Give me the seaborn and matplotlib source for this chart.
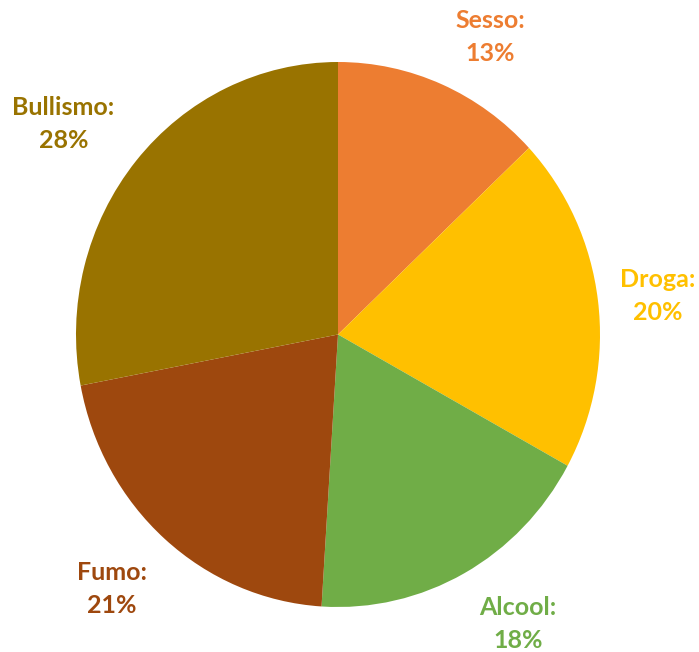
import numpy as np
import matplotlib
matplotlib.use("Agg")
import matplotlib.pyplot as plt
import seaborn as sns

categories = ["Sesso", "Droga", "Alcool", "Fumo", "Bullismo"]
values = [13, 20, 18, 21, 28]
colors = ["#ED7D31", "#FFC000", "#70AD47", "#9E480E", "#997300"]
label_dist = [1.236, 1.229, 1.265, 1.272, 1.302]
label_ang_shift = [-4.6, -0.6, 4.1, -1.3, 3.2]

sns.set_theme(style="white")
plt.rcParams['font.family'] = ['Lato', 'DejaVu Sans']

W, H = 699, 652
fig = plt.figure(figsize=(W / 100, H / 100), dpi=100)
fig.patch.set_facecolor("white")
ax = fig.add_axes([76 / W, (H - 607) / H, 524 / W, 545 / H])

wedges, _ = ax.pie(values, colors=colors, startangle=90, counterclock=False,
                   wedgeprops=dict(linewidth=0))
ax.set_aspect("auto")
ax.set_xlim(-1, 1)
ax.set_ylim(-1, 1)

for w, cat, v, col, d, s in zip(wedges, categories, values, colors,
                                label_dist, label_ang_shift):
    ang = np.deg2rad((w.theta1 + w.theta2) / 2 + s)
    ax.text(d * np.cos(ang), d * np.sin(ang), f"{cat}:\n{v}%", color=col,
            ha="center", va="center", fontsize=18, fontweight="bold",
            linespacing=1.5, clip_on=False)

fig.savefig("out.png", dpi=100, facecolor="white")
